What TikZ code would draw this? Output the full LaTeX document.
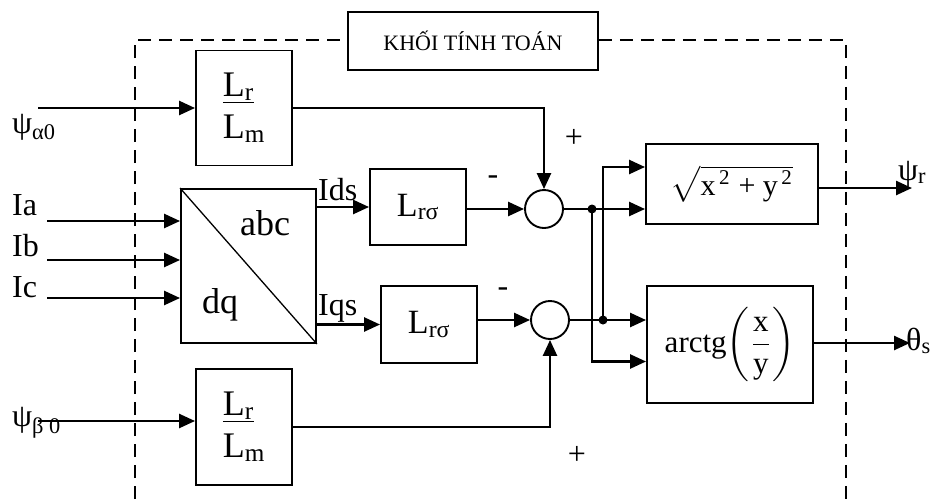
\documentclass[tikz,border=0pt]{standalone}
\usepackage{fontspec}
\usepackage{graphicx}
\setmainfont{Liberation Serif}
\usetikzlibrary{arrows.meta, positioning, calc}

\begin{document}
\begin{tikzpicture}[x=1pt, y=-1pt,
	blk/.style={draw, line width=1.9pt, inner sep=0pt},
	summer/.style={draw, circle, line width=1.9pt, minimum size=38pt, inner sep=0pt},
	sig/.style={line width=2.5pt, -{Triangle[length=16pt, width=14pt]}},
	lbl/.style={font=\fontsize{32}{36}\selectfont, inner sep=0pt},
	big/.style={font=\fontsize{36}{42}\selectfont}]
	\useasboundingbox (0,0) rectangle (948,499);
	
	% Frame and title
	\node[blk, minimum width=250pt, minimum height=58pt, font=\fontsize{22}{26}\selectfont] (title) at (473,41) {KHỐI TÍNH TOÁN};
	\draw[line width=2.2pt, dash pattern=on 13pt off 8pt] (135,499) -- (135,40) -- (title.west |- 0,40);
	\draw[line width=2.2pt, dash pattern=on 13pt off 8pt] (title.east |- 0,40) -- (846,40) -- (846,499);
	
	% Blocks
	\node[blk, big, align=left, minimum width=96pt, minimum height=115pt] (fa) at (244,108) {\underline{L\textsubscript{r}}\\L\textsubscript{m}};
	\node[blk, big, align=left, minimum width=96pt, minimum height=116pt] (fb) at (244,427) {\underline{L\textsubscript{r}}\\L\textsubscript{m}};
	\node[blk, minimum width=135pt, minimum height=154pt] (conv) at (248.5,266) {};
	\draw[line width=1.3pt] (conv.north west) -- (conv.south east);
	\node[big] (abc) at (265,223) {abc};
	\node[big] (dq) at (220,305) {dq};
	\node[blk, font=\fontsize{34}{40}\selectfont, minimum width=96pt, minimum height=76pt] (lsa) at (418,207) {L\textsubscript{rσ}};
	\node[blk, font=\fontsize{34}{40}\selectfont, minimum width=96pt, minimum height=77pt] (lsb) at (429,324.5) {L\textsubscript{rσ}};
	\node[summer] (suma) at (544,209) {};
	\node[summer] (sumb) at (550,320) {};
	\node[blk, minimum width=172pt, minimum height=80pt] (sq) at (732,184) {\scalebox{3}{$\sqrt{\mbox{x\textsuperscript{\,2} + y\textsuperscript{\,2}}}$}};
	\node[blk, minimum width=166pt, minimum height=117pt] (at) at (730,344.5) {\scalebox{3.1}{arctg$\displaystyle\left(\frac{\mbox{x}}{\mbox{y}}\right)$}};
	
	% Inputs
	\coordinate (ina) at (38,108);
	\coordinate (inb) at (38,421);
	\coordinate (cia) at (47,221);
	\coordinate (cib) at (47,260);
	\coordinate (cic) at (47,298);
	\draw[sig] (ina) -- (fa.west);
	\draw[sig] (inb) -- (inb -| fb.west);
	\draw[sig] (cia) -- (cia -| conv.west);
	\draw[sig] (cib) -- (cib -| conv.west);
	\draw[sig] (cic) -- (cic -| conv.west);
	\node[lbl, anchor=base west] (lpa) at (12,133) {ψ\textsubscript{α0}};
	\node[lbl, anchor=base west] (lpb) at (12,426) {ψ\textsubscript{β 0}};
	\node[lbl, anchor=base west] (lia) at (12,215) {Ia};
	\node[lbl, anchor=base west] (lib) at (12,256) {Ib};
	\node[lbl, anchor=base west] (lic) at (12,297) {Ic};
	
	% Currents to L blocks
	\draw[sig] (conv.east |- lsa) -- (lsa.west);
	\draw[sig] (conv.east |- lsb) -- (lsb.west);
	\node[lbl, anchor=base west] (lids) at (318,200) {Ids};
	\node[lbl, anchor=base west] (liqs) at (318,315) {Iqs};
	
	% Summing points
	\draw[sig] (lsa.east |- suma) -- (suma.west);
	\draw[sig] (lsb.east |- sumb) -- (sumb.west);
	\draw[sig] (fa.east) -| (suma.north);
	\draw[sig] (fb.east) -| (sumb.south);
	\node[lbl] (pa) at (574,138) {+};
	\node[lbl] (ma) at (493,180) {-};
	\node[lbl] (mb) at (503,292) {-};
	\node[lbl] (pb) at (577,455) {+};
	
	% Branches to the output blocks
	\coordinate (ja) at (592,209);
	\coordinate (jb) at (603,320);
	\draw[sig] (suma.east) -- (sq.west |- suma);
	\draw[sig] (ja) |- ([yshift=-17pt]at.west);
	\draw[sig] (sumb.east) -- (at.west |- sumb);
	\draw[sig] (jb) |- ([yshift=17pt]sq.west);
	\fill (ja) circle (4.5pt);
	\fill (jb) circle (4.5pt);
	
	% Outputs
	\coordinate (opr) at (912,188);
	\coordinate (ops) at (910,343);
	\draw[sig] (sq.east |- opr) -- (opr);
	\draw[sig] (at.east |- ops) -- (ops);
	\node[lbl, anchor=base west] (lpr) at (898,180) {ψ\textsubscript{r}};
	\node[lbl, anchor=base west] (lth) at (906,350) {θ\textsubscript{s}};
\end{tikzpicture}
\end{document}
